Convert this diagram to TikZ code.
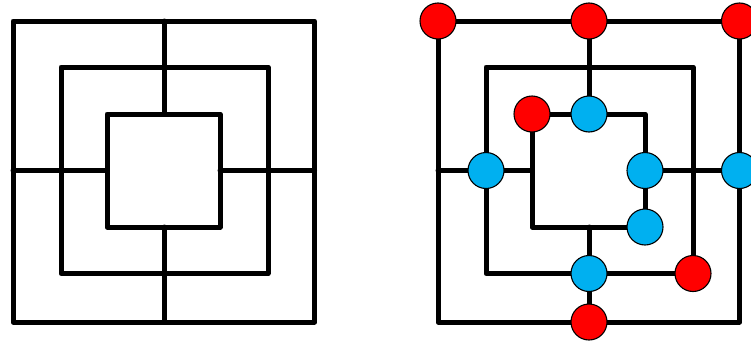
\documentclass[tikz,border=0pt]{standalone}
\definecolor{pieceRed}{RGB}{255,0,0}
\definecolor{pieceBlue}{RGB}{0,176,240}
\begin{document}
\begin{tikzpicture}[x=1pt,y=-1pt,
  boardline/.style={line width=5pt,line join=round,line cap=round},
  piece/.style={circle,draw=black,line width=1.1pt,minimum size=36pt,inner sep=0pt},
  redpiece/.style={piece,fill=pieceRed},
  bluepiece/.style={piece,fill=pieceBlue}]
\useasboundingbox (0,0) rectangle (751,340);
\foreach \b/\dx in {L/0,R/425}{
  \begin{scope}[shift={(\dx,0)}]
    % outer square
    \coordinate (\b o1) at (13,21);
    \coordinate (\b o2) at (164,21);
    \coordinate (\b o3) at (314.5,21);
    \coordinate (\b o4) at (314.5,170.5);
    \coordinate (\b o5) at (314.5,322);
    \coordinate (\b o6) at (164,322);
    \coordinate (\b o7) at (13,322);
    \coordinate (\b o8) at (13,170.5);
    % middle square
    \coordinate (\b m1) at (61,67);
    \coordinate (\b m2) at (164,67);
    \coordinate (\b m3) at (268,67);
    \coordinate (\b m4) at (268,170.5);
    \coordinate (\b m5) at (268,273.5);
    \coordinate (\b m6) at (164,273.5);
    \coordinate (\b m7) at (61,273.5);
    \coordinate (\b m8) at (61,170.5);
    % inner square
    \coordinate (\b i1) at (107,114);
    \coordinate (\b i2) at (164,114);
    \coordinate (\b i3) at (220,114);
    \coordinate (\b i4) at (220,170.5);
    \coordinate (\b i5) at (220,227);
    \coordinate (\b i6) at (164,227);
    \coordinate (\b i7) at (107,227);
    \coordinate (\b i8) at (107,170.5);
  \end{scope}
  \draw[boardline] (\b o1) -- (\b o3) -- (\b o5) -- (\b o7) -- cycle;
  \draw[boardline] (\b m1) -- (\b m3) -- (\b m5) -- (\b m7) -- cycle;
  \draw[boardline] (\b i1) -- (\b i3) -- (\b i5) -- (\b i7) -- cycle;
  \draw[boardline] (\b o2) -- (\b i2);
  \draw[boardline] (\b o4) -- (\b i4);
  \draw[boardline] (\b o6) -- (\b i6);
  \draw[boardline] (\b o8) -- (\b i8);
}
% pieces on the right board
\node[redpiece]  (p1)  at (Ro1) {};
\node[redpiece]  (p2)  at (Ro2) {};
\node[redpiece]  (p3)  at (Ro3) {};
\node[redpiece]  (p4)  at (Ri1) {};
\node[redpiece]  (p5)  at (Rm5) {};
\node[redpiece]  (p6)  at (Ro6) {};
\node[bluepiece] (q1)  at (Ri2) {};
\node[bluepiece] (q2)  at (Ri4) {};
\node[bluepiece] (q3)  at (Ri5) {};
\node[bluepiece] (q4)  at (Rm8) {};
\node[bluepiece] (q5)  at (Ro4) {};
\node[bluepiece] (q6)  at (Rm6) {};
\end{tikzpicture}
\end{document}
